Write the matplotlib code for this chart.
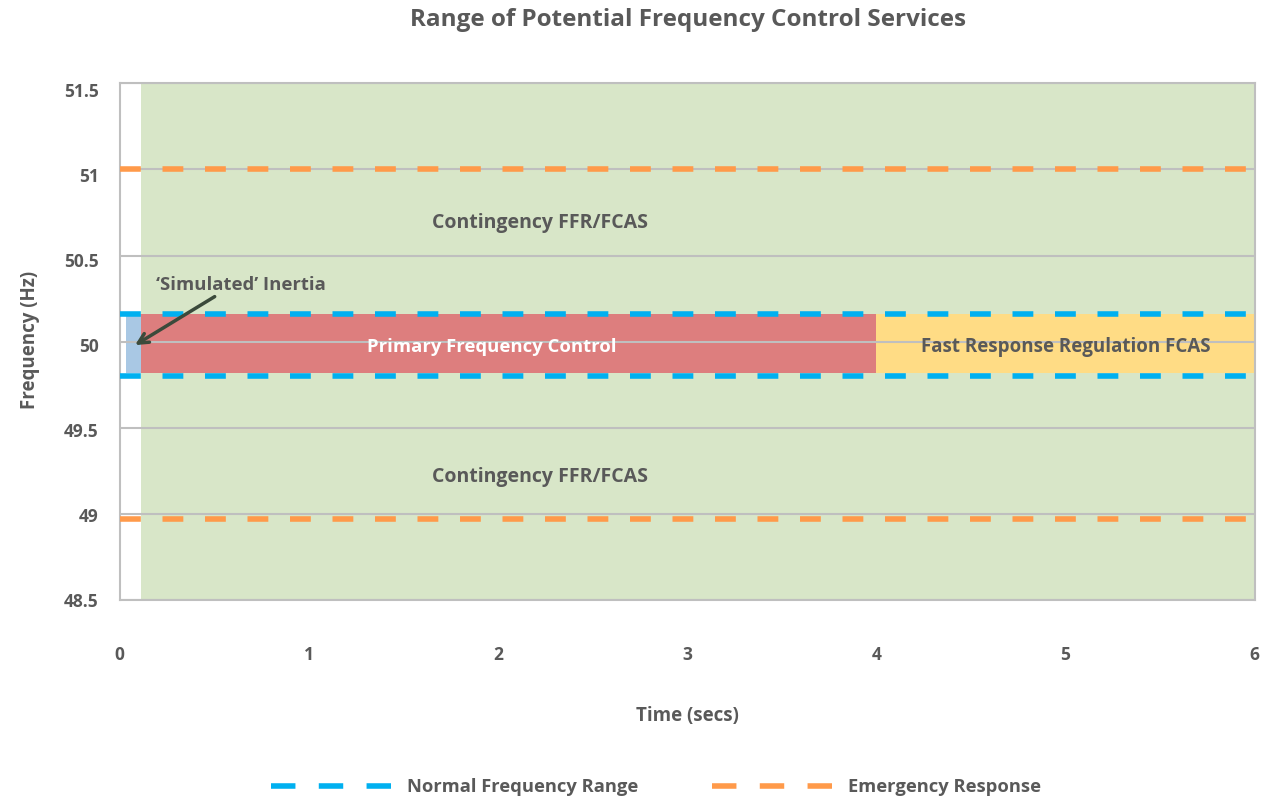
import matplotlib
matplotlib.use("Agg")
import matplotlib.pyplot as plt
import matplotlib.transforms as mtransforms
from matplotlib.lines import Line2D

plt.rcParams['font.family'] = ['Open Sans', 'DejaVu Sans']
plt.rcParams['font.weight'] = 'bold'

# ---- data ----
service_names = ["Contingency FFR/FCAS", "'Simulated' Inertia",
                 "Primary Frequency Control", "Fast Response Regulation FCAS"]
service_start = [0.113, 0.034, 0.113, 4.0]
service_end = [6.0, 0.113, 4.0, 6.0]
service_low = [48.5, 49.82, 49.82, 49.82]
service_high = [51.5, 50.16, 50.16, 50.16]
service_colors = ["#d8e6c8", "#a9c8e4", "#dd7e7e", "#ffdc85"]

normal_range = [49.8, 50.16]
emergency_levels = [48.97, 51.0]

x_ticks = [0, 1, 2, 3, 4, 5, 6]
y_ticks = [48.5, 49, 49.5, 50, 50.5, 51, 51.5]
y_tick_labels = ["48.5", "49", "49.5", "50", "50.5", "51", "51.5"]

gray_text = "#595959"
blue = "#00b0f0"
orange = "#ff9a4a"
grid_gray = "#bfbfbf"

fig = plt.figure(figsize=(12.74, 8.01), dpi=100)
ax = fig.add_axes([0.0938, 0.2509, 0.8911, 0.6451])

widths = [e - s for s, e in zip(service_start, service_end)]
heights = [h - l for l, h in zip(service_low, service_high)]
ax.bar(service_start, heights, width=widths, bottom=service_low, align='edge',
       color=service_colors, linewidth=0, zorder=1)

ax.set_xlim(0, 6)
ax.set_ylim(48.5, 51.5)
ax.set_yticks(y_ticks)
ax.set_yticklabels(y_tick_labels)
ax.set_xticks(x_ticks)
ax.yaxis.grid(True, color=grid_gray, linewidth=1.5, zorder=2)
ax.set_axisbelow(False)
ax.tick_params(axis='both', length=0, labelsize=12.5, labelcolor=gray_text)
ax.tick_params(axis='x', pad=33)
ax.tick_params(axis='y', pad=15)
for sp in ax.spines.values():
    sp.set_color(grid_gray)
    sp.set_linewidth(1.5)

# small downward drift of the y tick labels, as in the reference
for val, lab in zip(y_ticks, ax.get_yticklabels()):
    off = -5.0 * (val - 48.5) / 3.0 / 72.0
    lab.set_transform(lab.get_transform() +
                      mtransforms.ScaledTranslation(0, off, fig.dpi_scale_trans))

for v in normal_range:
    ax.axhline(v, color=blue, linewidth=4, dashes=(3.75, 3.9), zorder=3)
for v in emergency_levels:
    ax.axhline(v, color=orange, linewidth=4, dashes=(3.75, 3.9), zorder=3)

# labels
txt_kw = dict(fontweight='bold', zorder=5)
ax.text(2.22, 50.69, "Contingency FFR/FCAS", ha='center', va='center', color=gray_text, fontsize=14, **txt_kw)
ax.text(2.22, 49.215, "Contingency FFR/FCAS", ha='center', va='center', color=gray_text, fontsize=14, **txt_kw)
ax.text(1.965, 49.97, "Primary Frequency Control", ha='center', va='center', color='white', fontsize=13.3, **txt_kw)
ax.text(5.0, 49.97, "Fast Response Regulation FCAS", ha='center', va='center', color=gray_text, fontsize=13.5, **txt_kw)
ax.annotate("\u2018Simulated\u2019 Inertia", xy=(0.082, 49.98), xytext=(0.195, 50.33),
            ha='left', va='center', color=gray_text, fontsize=13.3, fontweight='bold', zorder=6,
            arrowprops=dict(arrowstyle='->', color='#3b4a3b', lw=2.5,
                            shrinkA=0, shrinkB=0, relpos=(0.37, 0.0),
                            mutation_scale=18))

ax.set_xlabel("Time (secs)", fontsize=13.5, fontweight='bold', color=gray_text)
ax.xaxis.set_label_coords(0.5, -0.205)
ax.set_ylabel("Frequency (Hz)", fontsize=13.5, fontweight='bold', color=gray_text)
ax.yaxis.set_label_coords(-0.088, 0.503)
ax.yaxis.label.set_va('top')

fig.text(0.5404, 1 - 20 / 801, "Range of Potential Frequency Control Services",
         ha='center', va='center', fontsize=17.5, fontweight='bold', color=gray_text)

handles = [Line2D([], [], color=blue, linewidth=4, dashes=(4.4, 4.2)),
           Line2D([], [], color=orange, linewidth=4, dashes=(4.4, 4.2))]
leg = fig.legend(handles, ["Normal Frequency Range", "Emergency Response"],
                 loc='center', bbox_to_anchor=(0.515, 1 - 787 / 801), ncol=2, frameon=False,
                 fontsize=13.2, handlelength=6.6, handletextpad=0.8, columnspacing=4.05)
for t in leg.get_texts():
    t.set_color(gray_text)
    t.set_fontweight('bold')

fig.savefig("out.png", dpi=100)
